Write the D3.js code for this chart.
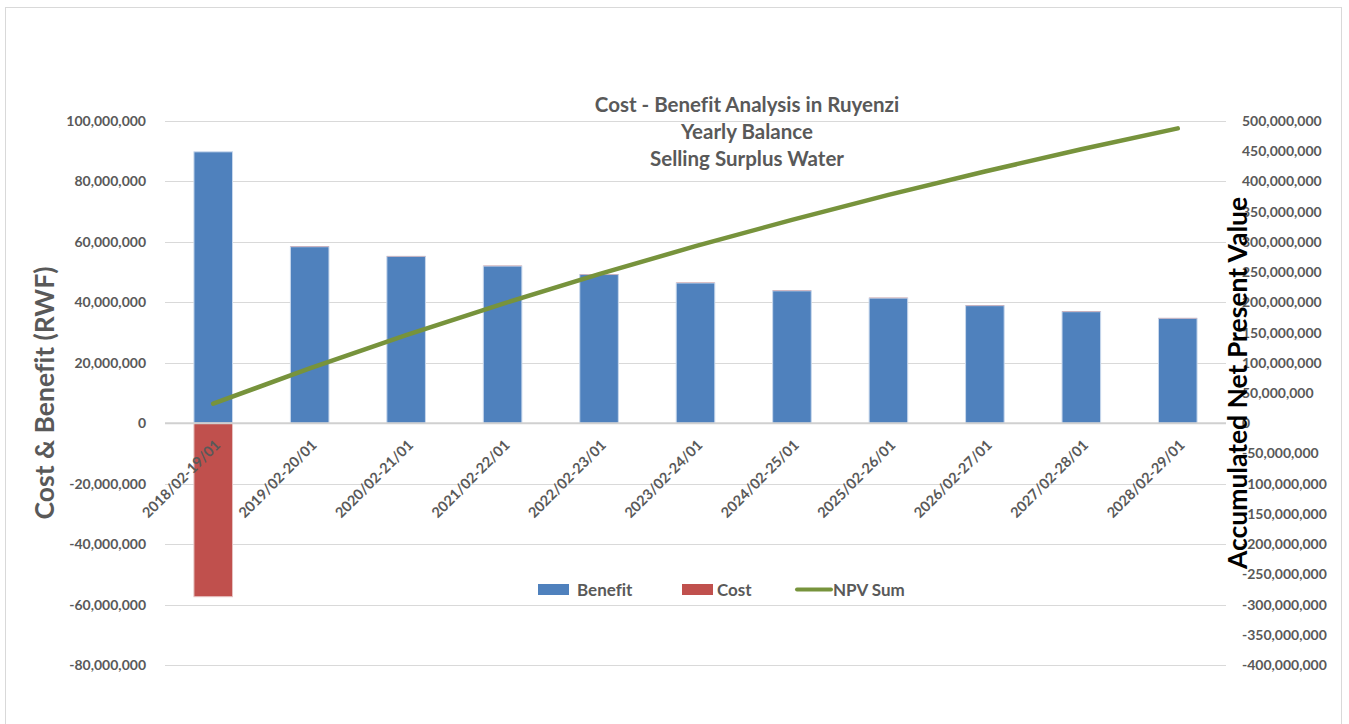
<!DOCTYPE html>
<html>
<head>
<meta charset="utf-8">
<script src="https://cdn.jsdelivr.net/npm/d3@7"></script>
<style>
  html, body { margin: 0; padding: 0; background: #fff; }
  svg { display: block; }
  text { font-family: Lato, "Open Sans", sans-serif; font-variant-ligatures: none; }
</style>
</head>
<body>
<svg id="chart" width="1349" height="724"></svg>
<script>
// Yearly balance of selling surplus water (RWF)
const periods = [
  "2018/02-19/01", "2019/02-20/01", "2020/02-21/01", "2021/02-22/01",
  "2022/02-23/01", "2023/02-24/01", "2024/02-25/01", "2025/02-26/01",
  "2026/02-27/01", "2027/02-28/01", "2028/02-29/01"
];
const benefit = [89800000, 58400000, 55200000, 52000000, 49200000, 46400000,
                 43800000, 41400000, 38900000, 36900000, 34700000];
const cost = [-57400000, 150000, 150000, 150000, 150000, 150000,
              150000, 150000, 150000, 150000, 150000];
const npvSum = [32400000, 90700000, 145700000, 197600000, 246600000, 292900000,
                336500000, 377800000, 416500000, 453300000, 487800000];
const leftTicks = [-80000000, -60000000, -40000000, -20000000, 0,
                   20000000, 40000000, 60000000, 80000000, 100000000];
const rightTicks = [-400000000, -350000000, -300000000, -250000000, -200000000,
                    -150000000, -100000000, -50000000, 0, 50000000, 100000000,
                    150000000, 200000000, 250000000, 300000000, 350000000,
                    400000000, 450000000, 500000000];
const titleLines = ["Cost - Benefit Analysis in Ruyenzi", "Yearly Balance", "Selling Surplus Water"];

const C = { benefit: "#4F81BD", cost: "#C0504D", npv: "#77933C", text: "#595959", grid: "#D9D9D9" };
const plot = { left: 165, right: 1226, top: 121, bottom: 665 };

const svg = d3.select("#chart");
svg.append("rect").attr("x", 0).attr("y", 0).attr("width", 1349).attr("height", 724).attr("fill", "#fff");
// outer chart frame
svg.append("rect").attr("x", 5.5).attr("y", 7.5).attr("width", 1336).attr("height", 740)
  .attr("fill", "none").attr("stroke", "#D9D9D9").attr("stroke-width", 1);

const x = d3.scaleBand().domain(periods).range([plot.left, plot.right]).paddingInner(0.6).paddingOuter(0.3);
const yL = d3.scaleLinear().domain([-80000000, 100000000]).range([plot.bottom, plot.top]);
const yR = d3.scaleLinear().domain([-400000000, 500000000]).range([plot.bottom, plot.top]);
const base = d3.format(",");
const fmt = d => base(d).replace("\u2212", "-");

// gridlines
svg.append("g").selectAll("line").data(leftTicks.filter(d => d !== 0)).join("line")
  .attr("x1", plot.left).attr("x2", plot.right)
  .attr("y1", d => Math.round(yL(d)) + 0.5).attr("y2", d => Math.round(yL(d)) + 0.5)
  .attr("stroke", C.grid).attr("stroke-width", 1);

// left axis labels
const axL = svg.append("g").attr("transform", `translate(${plot.left - 19},0)`)
  .call(d3.axisLeft(yL).tickValues(leftTicks).tickFormat(fmt).tickSize(0).tickPadding(0));
axL.select(".domain").remove();
axL.selectAll("text").attr("fill", C.text).attr("font-size", 14).attr("font-weight", 700)
  .attr("font-family", "Lato, sans-serif");

// right axis labels
const axR = svg.append("g").attr("transform", `translate(${plot.right + 16},0)`)
  .call(d3.axisRight(yR).tickValues(rightTicks).tickFormat(fmt).tickSize(0).tickPadding(0));
axR.select(".domain").remove();
axR.selectAll("text").attr("fill", C.text).attr("font-size", 14).attr("font-weight", 700)
  .attr("font-family", "Lato, sans-serif");

// bars: benefit up from zero, cost stacked by sign
const barG = svg.append("g");
const bw = x.bandwidth();
barG.selectAll("rect.benefit").data(periods).join("rect").attr("class", "benefit")
  .attr("x", d => x(d)).attr("width", bw)
  .attr("y", (d, i) => yL(benefit[i])).attr("height", (d, i) => yL(0) - yL(benefit[i]))
  .attr("fill", C.benefit).attr("stroke", "#C9D8EC").attr("stroke-width", 1);
barG.selectAll("rect.cost").data(periods).join("rect").attr("class", "cost")
  .attr("x", d => x(d)).attr("width", bw)
  .attr("y", (d, i) => cost[i] < 0 ? yL(0) : yL(benefit[i] + cost[i]))
  .attr("height", (d, i) => cost[i] < 0 ? yL(cost[i]) - yL(0) : yL(benefit[i]) - yL(benefit[i] + cost[i]))
  .attr("fill", C.cost).attr("fill-opacity", (d, i) => cost[i] < 0 ? 1 : 0.6)
  .attr("stroke", (d, i) => cost[i] < 0 ? "#E6C3C2" : "none").attr("stroke-width", 1);

// zero / category axis line
svg.append("line").attr("x1", plot.left).attr("x2", plot.right)
  .attr("y1", yL(0)).attr("y2", yL(0)).attr("stroke", "#D0D0D0").attr("stroke-width", 2);

// category labels rotated
svg.append("g").selectAll("text").data(periods).join("text")
  .attr("transform", d => `translate(${x(d) + bw / 2 + 8},446) rotate(-45)`)
  .attr("text-anchor", "end").attr("fill", C.text).attr("font-size", 14.5).attr("font-weight", 700)
  .text(d => d);

// accumulated NPV line on right axis
const line = d3.line().x((d, i) => x(periods[i]) + bw / 2).y(d => yR(d));
svg.append("path").datum(npvSum).attr("d", line).attr("fill", "none")
  .attr("stroke", C.npv).attr("stroke-width", 4.5).attr("stroke-linecap", "round").attr("stroke-linejoin", "round");

// title
svg.append("g").selectAll("text").data(titleLines).join("text")
  .attr("x", 747).attr("y", (d, i) => 112 + i * 27)
  .attr("text-anchor", "middle").attr("fill", C.text).attr("font-size", 20.5).attr("font-weight", 700)
  .text(d => d);

// axis titles
svg.append("text").attr("transform", "translate(54,393) rotate(-90)")
  .attr("text-anchor", "middle").attr("fill", C.text).attr("font-size", 26.5).attr("font-weight", 700)
  .text("Cost & Benefit (RWF)");
svg.append("text").attr("transform", "translate(1247,383) rotate(-90)")
  .attr("text-anchor", "middle").attr("fill", "#000").attr("font-size", 26.5).attr("font-weight", 700)
  .text("Accumulated Net Present Value");

// legend
const legend = [
  { name: "Benefit", type: "rect", color: C.benefit, x: 538, tx: 577 },
  { name: "Cost", type: "rect", color: C.cost, x: 682, tx: 717 },
  { name: "NPV Sum", type: "line", color: C.npv, x: 797, tx: 833 }
];
const lg = svg.append("g");
legend.forEach(l => {
  if (l.type === "rect") {
    lg.append("rect").attr("x", l.x).attr("y", 584).attr("width", 31).attr("height", 11).attr("fill", l.color);
  } else {
    lg.append("line").attr("x1", l.x).attr("x2", l.x + 34).attr("y1", 589.5).attr("y2", 589.5)
      .attr("stroke", l.color).attr("stroke-width", 4).attr("stroke-linecap", "round");
  }
  lg.append("text").attr("x", l.tx).attr("y", 595.5)
    .attr("fill", C.text).attr("font-size", 17).attr("font-weight", 700).text(l.name);
});
</script>
</body>
</html>
